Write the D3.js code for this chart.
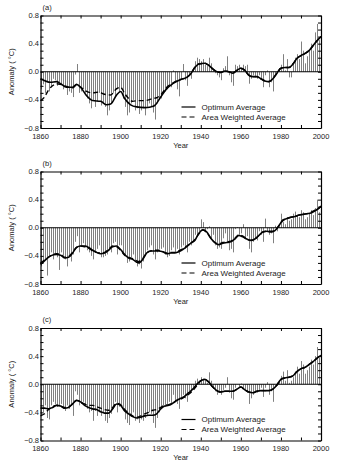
<!DOCTYPE html>
<html lang="en">
<head>
  <meta charset="UTF-8">
  <title>Temperature anomaly panels</title>
  <script src="https://d3js.org/d3.v7.min.js"></script>
  <style>
    body { margin: 0; background: #fff; }
    text { font-family: "Liberation Sans", Arial, sans-serif; fill: #222; }
  </style>
</head>
<body>
  <script>
    // years 1860..2000, one bar per year
    const years = d3.range(1860, 2001);
    const panelLabels = ['(a)', '(b)', '(c)'];
    const xTickLabels = [1860, 1880, 1900, 1920, 1940, 1960, 1980, 2000];
    const yTickLabels = [0.8, 0.4, 0.0, -0.4, -0.8];
    const legendLabels = ['Optimum Average', 'Area Weighted Average'];

    // annual anomalies (bars)
    const annualA = [
      -0.25, -0.18, -0.30, -0.15, -0.28, -0.22, -0.10, -0.12, -0.20, -0.15,
      -0.18, -0.25, -0.20, -0.33, -0.28, -0.30, -0.36, -0.04, 0.11, -0.30,
      -0.28, -0.25, -0.30, -0.38, -0.45, -0.52, -0.40, -0.50, -0.42, -0.30,
      -0.48, -0.45, -0.50, -0.62, -0.55, -0.45, -0.30, -0.35, -0.25, -0.30,
      -0.25, -0.38, -0.50, -0.62, -0.58, -0.45, -0.40, -0.55, -0.52, -0.60,
      -0.55, -0.52, -0.62, -0.50, -0.45, -0.50, -0.58, -0.68, -0.45, -0.40,
      -0.38, -0.30, -0.28, -0.25, -0.20, -0.22, 0.02, -0.15, -0.25, -0.35,
      -0.10, 0.11, -0.12, -0.20, -0.05, -0.10, 0.05, 0.15, 0.20, 0.18,
      0.15, 0.18, 0.10, 0.08, 0.20, 0.12, 0.02, -0.02, -0.05, -0.08,
      -0.12, 0.05, 0.08, 0.22, -0.05, -0.15, -0.20, 0.10, 0.08, 0.10,
      0.05, 0.10, 0.08, 0.10, -0.17, -0.10, -0.05, -0.08, -0.10, -0.05,
      -0.10, -0.22, -0.05, 0.02, -0.22, -0.15, -0.28, -0.05, -0.02, 0.05,
      0.10, 0.25, 0.02, 0.18, -0.08, -0.08, 0.12, 0.20, 0.25, 0.18,
      0.43, 0.30, 0.12, 0.22, 0.30, 0.40, 0.30, 0.56, 0.68, 0.45,
      0.45
    ];
    const annualB = [
      -0.55, -0.50, -0.45, -0.68, -0.40, -0.35, -0.45, -0.38, -0.42, -0.60,
      -0.35, -0.40, -0.45, -0.55, -0.40, -0.48, -0.38, -0.20, -0.12, -0.35,
      -0.25, -0.22, -0.28, -0.32, -0.35, -0.40, -0.45, -0.35, -0.30, -0.25,
      -0.42, -0.42, -0.40, -0.38, -0.30, -0.35, -0.22, -0.20, -0.38, -0.25,
      -0.25, -0.35, -0.40, -0.50, -0.48, -0.42, -0.38, -0.48, -0.55, -0.52,
      -0.58, -0.48, -0.40, -0.32, -0.28, -0.25, -0.38, -0.45, -0.35, -0.30,
      -0.30, -0.28, -0.38, -0.42, -0.40, -0.32, -0.28, -0.35, -0.30, -0.38,
      -0.28, -0.25, -0.30, -0.35, -0.20, -0.25, -0.18, -0.10, -0.12, -0.05,
      0.12, 0.08, -0.05, -0.02, 0.02, -0.15, -0.10, -0.25, -0.30, -0.28,
      -0.30, -0.15, -0.08, -0.20, -0.32, -0.30, -0.35, -0.02, 0.01, -0.10,
      -0.08, 0.05, -0.15, -0.12, -0.30, -0.35, -0.20, -0.15, -0.18, -0.05,
      -0.10, -0.20, 0.13, -0.05, -0.10, -0.08, -0.22, 0.03, -0.05, 0.02,
      0.20, 0.08, 0.05, 0.15, 0.10, 0.12, 0.20, 0.23, 0.18, 0.15,
      0.25, 0.22, 0.12, 0.15, 0.20, 0.25, 0.18, 0.28, 0.40, 0.22,
      0.18
    ];
    const annualC = [
      -0.45, -0.40, -0.30, -0.48, -0.50, -0.30, -0.25, -0.28, -0.32, -0.30,
      -0.28, -0.35, -0.38, -0.30, -0.35, -0.28, -0.45, -0.10, -0.15, -0.30,
      -0.28, -0.25, -0.30, -0.35, -0.40, -0.38, -0.52, -0.38, -0.45, -0.40,
      -0.45, -0.40, -0.52, -0.55, -0.48, -0.42, -0.35, -0.25, -0.40, -0.32,
      -0.28, -0.35, -0.50, -0.55, -0.58, -0.45, -0.40, -0.52, -0.50, -0.55,
      -0.50, -0.52, -0.48, -0.45, -0.40, -0.42, -0.55, -0.62, -0.48, -0.40,
      -0.35, -0.30, -0.32, -0.28, -0.25, -0.28, -0.15, -0.25, -0.28, -0.35,
      -0.18, -0.15, -0.20, -0.25, -0.10, -0.12, -0.05, 0.05, 0.08, 0.05,
      0.10, 0.08, 0.05, 0.02, 0.17, 0.05, -0.05, -0.10, -0.15, -0.12,
      -0.15, -0.08, -0.05, 0.10, -0.12, -0.20, -0.22, -0.05, 0.00, -0.03,
      0.01, -0.05, -0.08, -0.12, -0.28, -0.20, -0.15, -0.10, -0.12, -0.08,
      -0.05, -0.18, -0.05, 0.03, -0.15, -0.10, -0.25, 0.00, -0.02, 0.05,
      0.12, 0.18, 0.05, 0.20, 0.02, 0.05, 0.10, 0.18, 0.25, 0.15,
      0.33, 0.28, 0.15, 0.20, 0.25, 0.35, 0.28, 0.40, 0.53, 0.38,
      0.35
    ];

    // smoothed curves, [year, anomaly]
    const optimumA = [
      [1860, -0.10], [1865, -0.15], [1868, -0.14], [1870, -0.17], [1873, -0.22], [1876, -0.22],
      [1878, -0.18], [1880, -0.22], [1883, -0.34], [1886, -0.41], [1890, -0.42], [1893, -0.47],
      [1895, -0.46], [1898, -0.33], [1900, -0.28], [1902, -0.38], [1905, -0.47], [1908, -0.50],
      [1912, -0.51], [1915, -0.50], [1917, -0.48], [1920, -0.36], [1923, -0.24], [1926, -0.17],
      [1930, -0.11], [1933, -0.08], [1935, -0.03], [1937, 0.06], [1939, 0.11], [1942, 0.12],
      [1944, 0.09], [1946, 0.04], [1948, 0.00], [1950, -0.01], [1952, 0.01], [1954, 0.00],
      [1956, -0.02], [1958, 0.02], [1960, 0.05], [1962, 0.02], [1964, -0.05], [1966, -0.07],
      [1968, -0.07], [1970, -0.10], [1972, -0.13], [1974, -0.14], [1976, -0.10], [1978, -0.02],
      [1980, 0.05], [1982, 0.06], [1984, 0.06], [1986, 0.11], [1988, 0.19], [1990, 0.23],
      [1992, 0.26], [1994, 0.30], [1996, 0.37], [1998, 0.44], [2000, 0.50]
    ];
    const weightedA = [
      [1860, -0.41], [1862, -0.36], [1864, -0.26], [1866, -0.20], [1868, -0.17], [1870, -0.18],
      [1873, -0.21], [1876, -0.23], [1878, -0.19], [1880, -0.22], [1883, -0.28], [1886, -0.30],
      [1889, -0.29], [1892, -0.32], [1895, -0.33], [1898, -0.24], [1900, -0.22], [1902, -0.31],
      [1904, -0.38], [1906, -0.42], [1909, -0.41], [1912, -0.41], [1914, -0.40], [1916, -0.38],
      [1918, -0.37], [1920, -0.33], [1923, -0.22], [1926, -0.16], [1930, -0.11], [1933, -0.08],
      [1935, -0.03], [1937, 0.06], [1939, 0.11], [1942, 0.12], [1944, 0.09], [1946, 0.04],
      [1948, 0.00], [1950, -0.01], [1952, 0.01], [1954, 0.00], [1956, -0.02], [1958, 0.02],
      [1960, 0.05], [1962, 0.02], [1964, -0.05], [1966, -0.07], [1968, -0.07], [1970, -0.10],
      [1972, -0.13], [1974, -0.14], [1976, -0.10], [1978, -0.02], [1980, 0.05], [1982, 0.06],
      [1984, 0.06], [1986, 0.11], [1988, 0.19], [1990, 0.23], [1992, 0.26], [1994, 0.30],
      [1996, 0.37], [1998, 0.44], [2000, 0.50]
    ];
    const optimumB = [
      [1860, -0.52], [1862, -0.47], [1865, -0.40], [1868, -0.38], [1870, -0.39], [1872, -0.43],
      [1874, -0.42], [1876, -0.36], [1878, -0.28], [1880, -0.26], [1882, -0.26], [1884, -0.28],
      [1886, -0.32], [1888, -0.35], [1890, -0.37], [1892, -0.36], [1894, -0.32], [1896, -0.27],
      [1898, -0.26], [1900, -0.31], [1902, -0.38], [1904, -0.43], [1906, -0.45], [1908, -0.49],
      [1909, -0.50], [1911, -0.45], [1913, -0.36], [1915, -0.33], [1917, -0.33], [1919, -0.33],
      [1921, -0.34], [1923, -0.37], [1925, -0.36], [1927, -0.36], [1929, -0.34], [1931, -0.31],
      [1933, -0.27], [1935, -0.22], [1937, -0.18], [1939, -0.08], [1941, -0.03], [1943, -0.06],
      [1945, -0.15], [1947, -0.21], [1949, -0.24], [1951, -0.22], [1953, -0.21], [1955, -0.20],
      [1957, -0.16], [1959, -0.11], [1961, -0.13], [1963, -0.16], [1965, -0.18], [1967, -0.16],
      [1969, -0.11], [1971, -0.06], [1973, -0.05], [1975, -0.06], [1977, -0.04], [1979, 0.03],
      [1981, 0.11], [1983, 0.13], [1985, 0.15], [1987, 0.16], [1989, 0.18], [1991, 0.19],
      [1993, 0.20], [1995, 0.21], [1997, 0.24], [1999, 0.28], [2000, 0.31]
    ];
    const weightedB = [
      [1860, -0.50], [1862, -0.46], [1865, -0.40], [1868, -0.37], [1870, -0.38], [1872, -0.42],
      [1874, -0.41], [1876, -0.35], [1878, -0.28], [1880, -0.26], [1882, -0.27], [1884, -0.29],
      [1886, -0.33], [1888, -0.35], [1890, -0.36], [1892, -0.35], [1894, -0.31], [1896, -0.26],
      [1898, -0.27], [1900, -0.32], [1902, -0.39], [1904, -0.42], [1906, -0.44], [1908, -0.47],
      [1909, -0.48], [1911, -0.44], [1913, -0.36], [1915, -0.33], [1917, -0.32], [1919, -0.32],
      [1921, -0.34], [1923, -0.36], [1925, -0.35], [1927, -0.35], [1929, -0.33], [1931, -0.30],
      [1933, -0.26], [1935, -0.22], [1937, -0.17], [1939, -0.09], [1941, -0.03], [1943, -0.07],
      [1945, -0.15], [1947, -0.21], [1949, -0.23], [1951, -0.21], [1953, -0.20], [1955, -0.19],
      [1957, -0.15], [1959, -0.10], [1961, -0.12], [1963, -0.16], [1965, -0.18], [1967, -0.16],
      [1969, -0.11], [1971, -0.06], [1973, -0.05], [1975, -0.05], [1977, -0.04], [1979, 0.03],
      [1981, 0.10], [1983, 0.13], [1985, 0.15], [1987, 0.16], [1989, 0.18], [1991, 0.19],
      [1993, 0.20], [1995, 0.22], [1997, 0.25], [1999, 0.28], [2000, 0.30]
    ];
    const optimumC = [
      [1860, -0.34], [1862, -0.34], [1864, -0.35], [1866, -0.33], [1868, -0.30], [1870, -0.31],
      [1872, -0.34], [1874, -0.33], [1876, -0.28], [1878, -0.23], [1880, -0.25], [1882, -0.30],
      [1884, -0.33], [1886, -0.35], [1888, -0.36], [1890, -0.39], [1892, -0.41], [1894, -0.41],
      [1896, -0.35], [1898, -0.28], [1900, -0.30], [1902, -0.38], [1904, -0.42], [1906, -0.46],
      [1908, -0.48], [1910, -0.47], [1912, -0.45], [1914, -0.44], [1916, -0.44], [1918, -0.42],
      [1920, -0.35], [1922, -0.31], [1924, -0.30], [1926, -0.27], [1928, -0.23], [1930, -0.20],
      [1932, -0.17], [1934, -0.12], [1936, -0.07], [1938, 0.00], [1940, 0.05], [1942, 0.07],
      [1944, 0.03], [1946, -0.04], [1948, -0.09], [1950, -0.11], [1952, -0.10], [1954, -0.10],
      [1956, -0.10], [1958, -0.07], [1960, -0.04], [1962, -0.08], [1964, -0.11], [1966, -0.12],
      [1968, -0.10], [1970, -0.09], [1972, -0.09], [1974, -0.09], [1976, -0.07], [1978, -0.01],
      [1980, 0.07], [1982, 0.09], [1984, 0.10], [1986, 0.12], [1988, 0.18], [1990, 0.22],
      [1992, 0.24], [1994, 0.28], [1996, 0.32], [1998, 0.37], [2000, 0.41]
    ];
    const weightedC = [
      [1860, -0.45], [1862, -0.42], [1864, -0.36], [1866, -0.32], [1868, -0.30], [1870, -0.31],
      [1872, -0.33], [1874, -0.32], [1876, -0.28], [1878, -0.23], [1880, -0.25], [1882, -0.28],
      [1884, -0.30], [1886, -0.30], [1888, -0.32], [1890, -0.34], [1892, -0.36], [1894, -0.37],
      [1896, -0.33], [1898, -0.27], [1900, -0.29], [1902, -0.36], [1904, -0.41], [1906, -0.45],
      [1908, -0.47], [1910, -0.45], [1912, -0.42], [1914, -0.40], [1916, -0.37], [1918, -0.36],
      [1920, -0.33], [1922, -0.30], [1924, -0.29], [1926, -0.27], [1928, -0.23], [1930, -0.21],
      [1932, -0.18], [1934, -0.14], [1936, -0.09], [1938, -0.02], [1940, 0.05], [1942, 0.07],
      [1944, 0.03], [1946, -0.04], [1948, -0.09], [1950, -0.11], [1952, -0.10], [1954, -0.10],
      [1956, -0.10], [1958, -0.07], [1960, -0.04], [1962, -0.08], [1964, -0.11], [1966, -0.12],
      [1968, -0.10], [1970, -0.09], [1972, -0.09], [1974, -0.09], [1976, -0.07], [1978, -0.01],
      [1980, 0.07], [1982, 0.09], [1984, 0.10], [1986, 0.12], [1988, 0.18], [1990, 0.22],
      [1992, 0.24], [1994, 0.28], [1996, 0.32], [1998, 0.37], [2000, 0.41]
    ];

    const panels = [
      { label: panelLabels[0], annual: annualA, optimum: optimumA, weighted: weightedA },
      { label: panelLabels[1], annual: annualB, optimum: optimumB, weighted: weightedB },
      { label: panelLabels[2], annual: annualC, optimum: optimumC, weighted: weightedC }
    ];

    const w = 346;
    const h = 475;
    const left = 40.5;
    const right = 321;
    const panelH = 112.5;
    const tops = [15.5, 171.5, 328];

    const svg = d3.select('body')
      .append('svg')
      .attr('width', w)
      .attr('height', h);

    const xScale = d3.scaleLinear()
      .domain([1860, 2000])
      .range([left, right]);

    panels.forEach((p, i) => {
      const top = tops[i];
      const bottom = top + panelH;

      const yScale = d3.scaleLinear()
        .domain([-0.8, 0.8])
        .range([bottom, top]);

      const g = svg.append('g');

      // annual bars
      g.selectAll('line.bar')
        .data(p.annual)
        .enter()
        .append('line')
        .attr('class', 'bar')
        .attr('x1', (d, j) => Math.round(xScale(years[j])) + 0.5)
        .attr('x2', (d, j) => Math.round(xScale(years[j])) + 0.5)
        .attr('y1', yScale(0))
        .attr('y2', d => yScale(d))
        .attr('stroke', '#808080')
        .attr('stroke-width', 1);

      // zero line
      g.append('line')
        .attr('x1', left).attr('x2', right)
        .attr('y1', yScale(0)).attr('y2', yScale(0))
        .attr('stroke', '#000')
        .attr('stroke-width', 1.2);

      const line = d3.line()
        .x(d => xScale(d[0]))
        .y(d => yScale(d[1]))
        .curve(d3.curveMonotoneX);

      g.append('path')
        .attr('d', line(p.weighted))
        .attr('fill', 'none')
        .attr('stroke', '#000')
        .attr('stroke-width', 1.4)
        .attr('stroke-dasharray', '5,3');

      g.append('path')
        .attr('d', line(p.optimum))
        .attr('fill', 'none')
        .attr('stroke', '#000')
        .attr('stroke-width', 1.6);

      // axes, ticks pointing inward
      const yTicks = d3.range(-8, 9).map(v => v / 10);
      const xTicks = d3.range(1860, 2001, 10);

      g.append('g')
        .attr('transform', `translate(0,${bottom})`)
        .call(d3.axisBottom(xScale).tickValues(xTicks).tickSizeInner(-3).tickSizeOuter(0).tickFormat(''));
      g.append('g')
        .attr('transform', `translate(0,${top})`)
        .call(d3.axisTop(xScale).tickValues(xTicks).tickSizeInner(-3).tickSizeOuter(0).tickFormat(''));
      g.append('g')
        .attr('transform', `translate(${left},0)`)
        .call(d3.axisLeft(yScale).tickValues(yTicks).tickSizeInner(-3).tickSizeOuter(0).tickFormat(''));
      g.append('g')
        .attr('transform', `translate(${right},0)`)
        .call(d3.axisRight(yScale).tickValues(yTicks).tickSizeInner(-3).tickSizeOuter(0).tickFormat(''));

      g.selectAll('.domain').attr('stroke', '#000').attr('stroke-width', 1.2);
      g.selectAll('.tick line').attr('stroke', '#000');

      // tick labels
      g.selectAll('text.xl')
        .data(xTickLabels)
        .enter()
        .append('text')
        .attr('class', 'xl')
        .attr('x', d => xScale(d))
        .attr('y', bottom + 10.5)
        .attr('text-anchor', 'middle')
        .attr('font-size', '7.5px')
        .text(d => d);

      g.selectAll('text.yl')
        .data(yTickLabels)
        .enter()
        .append('text')
        .attr('class', 'yl')
        .attr('x', left - 1.5)
        .attr('y', d => yScale(d) + 2.6)
        .attr('text-anchor', 'end')
        .attr('font-size', '7.5px')
        .text(d => d3.format('.1f')(d));

      // panel label
      g.append('text')
        .attr('x', left + 2)
        .attr('y', top - 6)
        .attr('font-size', '7.5px')
        .text(p.label);

      // axis titles
      g.append('text')
        .attr('x', (left + right) / 2)
        .attr('y', bottom + 19.5)
        .attr('text-anchor', 'middle')
        .attr('font-size', '7.5px')
        .text('Year');

      g.append('text')
        .attr('transform', `translate(14,${(top + bottom) / 2}) rotate(-90)`)
        .attr('text-anchor', 'middle')
        .attr('font-size', '7.5px')
        .text('Anomaly ( °C)');

      // legend
      legendLabels.forEach((lab, k) => {
        const ly = top + 91.5 + k * 10;
        g.append('line')
          .attr('x1', 181.5).attr('x2', 195.5)
          .attr('y1', ly).attr('y2', ly)
          .attr('stroke', '#000')
          .attr('stroke-width', 1.2)
          .attr('stroke-dasharray', k === 1 ? '5,3' : null);
        g.append('text')
          .attr('x', 201.5)
          .attr('y', ly + 2.8)
          .attr('font-size', '8px')
          .text(lab);
      });
    });
  </script>
</body>
</html>
